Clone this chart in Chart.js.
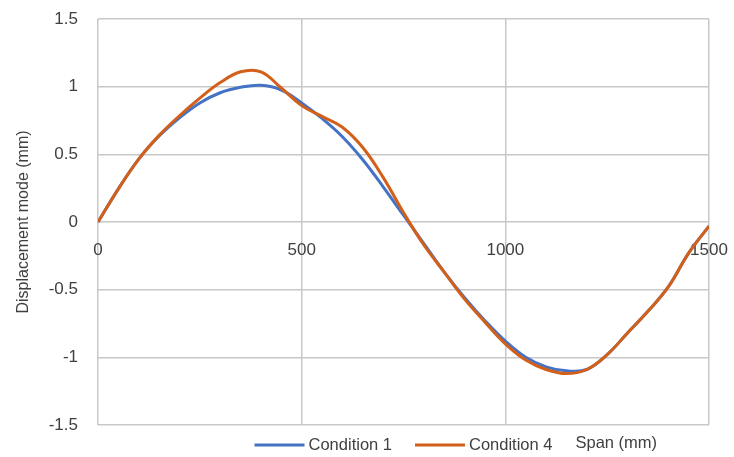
<!DOCTYPE html>
<html>
<head>
<meta charset="utf-8">
<script src="https://cdn.jsdelivr.net/npm/chart.js@4.4.1/dist/chart.umd.min.js"></script>
<style>
  html, body { margin: 0; padding: 0; background: #fff; }
  #wrap { width: 734px; height: 457px; position: relative; }
</style>
</head>
<body>
<div id="wrap"><canvas id="modeChart"></canvas></div>
<script>
// span positions along the beam (mm)
const spanMm = [0, 50, 100, 150, 200, 250, 300, 350, 400, 450, 500, 550, 600, 650, 700, 750,
  800, 850, 900, 950, 1000, 1050, 1100, 1150, 1200, 1250, 1300, 1350, 1400, 1450, 1500];

// displacement mode (mm)
const condition1 = [0, 0.245, 0.465, 0.635, 0.77, 0.88, 0.955, 0.995, 1.01, 0.975, 0.88, 0.765, 0.63, 0.46, 0.26, 0.05,
  -0.16, -0.37, -0.56, -0.73, -0.88, -1.00, -1.07, -1.10, -1.09, -0.98, -0.82, -0.66, -0.48, -0.23, -0.03];
const condition4 = [0, 0.245, 0.465, 0.64, 0.785, 0.915, 1.03, 1.11, 1.11, 0.99, 0.86, 0.78, 0.70, 0.55, 0.33, 0.07,
  -0.17, -0.37, -0.57, -0.74, -0.90, -1.02, -1.09, -1.12, -1.09, -0.98, -0.82, -0.66, -0.48, -0.23, -0.03];

const xTicks = [0, 500, 1000, 1500];
const yTicks = [-1.5, -1, -0.5, 0, 0.5, 1, 1.5];

const FONT = '"Liberation Sans", Arial, sans-serif';
const TEXT = '#404040';
const GRID = '#c8c8c8';

const toPoints = (ys) => ys.map((y, i) => ({ x: spanMm[i], y: y }));

// keep the plot area exactly where layout.padding puts it
const noScalePadding = (s) => {
  s.paddingLeft = s.paddingRight = s.paddingTop = s.paddingBottom = 0;
};

// legend line + label pairs, with the x axis caption after them
const bottomLegend = {
  id: 'bottomLegend',
  afterDraw(chart) {
    const { ctx, chartArea } = chart;
    const lineLen = 50, gap = 4, itemGap = 23;
    const y = chartArea.bottom + 20;
    ctx.save();
    ctx.font = '16.5px ' + FONT;
    ctx.textBaseline = 'middle';
    const items = chart.data.datasets.map(ds => ({
      text: ds.label,
      color: ds.borderColor,
      w: lineLen + gap + ctx.measureText(ds.label).width
    }));
    const total = items.reduce((s, it) => s + it.w, 0) + itemGap * (items.length - 1);
    let x = (chartArea.left + chartArea.right) / 2 - total / 2;
    items.forEach(it => {
      ctx.strokeStyle = it.color;
      ctx.lineWidth = 3;
      ctx.beginPath();
      ctx.moveTo(x, y);
      ctx.lineTo(x + lineLen, y);
      ctx.stroke();
      ctx.fillStyle = TEXT;
      ctx.fillText(it.text, x + lineLen + gap, y);
      x += it.w + itemGap;
    });
    ctx.fillText('Span (mm)', x, y - 2);
    ctx.restore();
  }
};

new Chart(document.getElementById('modeChart'), {
  type: 'line',
  data: {
    datasets: [
      {
        label: 'Condition 1',
        data: toPoints(condition1),
        borderColor: '#4472c4',
        borderWidth: 3,
        pointRadius: 0,
        tension: 0.4,
        order: 1
      },
      {
        label: 'Condition 4',
        data: toPoints(condition4),
        borderColor: '#d2601a',
        borderWidth: 3,
        pointRadius: 0,
        tension: 0.4,
        order: 0
      }
    ]
  },
  options: {
    responsive: true,
    maintainAspectRatio: false,
    animation: false,
    layout: { padding: { top: 19, right: 25, bottom: 32, left: 0 } },
    plugins: {
      legend: { display: false },
      tooltip: { enabled: false }
    },
    scales: {
      x: {
        type: 'linear',
        position: { y: 0 },
        min: 0,
        max: 1500,
        afterBuildTicks: (s) => { s.ticks = xTicks.map(v => ({ value: v })); },
        afterFit: noScalePadding,
        grid: { color: GRID, lineWidth: 1.5, drawTicks: false },
        border: { display: false },
        ticks: {
          padding: 18,
          maxRotation: 0,
          color: TEXT,
          font: { family: FONT, size: 17 },
          callback: (v) => String(v)
        }
      },
      y: {
        min: -1.5,
        max: 1.5,
        afterBuildTicks: (s) => { s.ticks = yTicks.map(v => ({ value: v })); },
        afterFit: (s) => { noScalePadding(s); s.width = 98; },
        grid: { color: GRID, lineWidth: 1.5, drawTicks: false },
        border: { display: false },
        ticks: {
          padding: 20,
          color: TEXT,
          font: { family: FONT, size: 17 },
          callback: (v) => String(v)
        },
        title: {
          display: true,
          text: 'Displacement mode (mm)',
          color: TEXT,
          font: { family: FONT, size: 16 },
          padding: { top: 14, bottom: 0 }
        }
      }
    }
  },
  plugins: [bottomLegend]
});
</script>
</body>
</html>
